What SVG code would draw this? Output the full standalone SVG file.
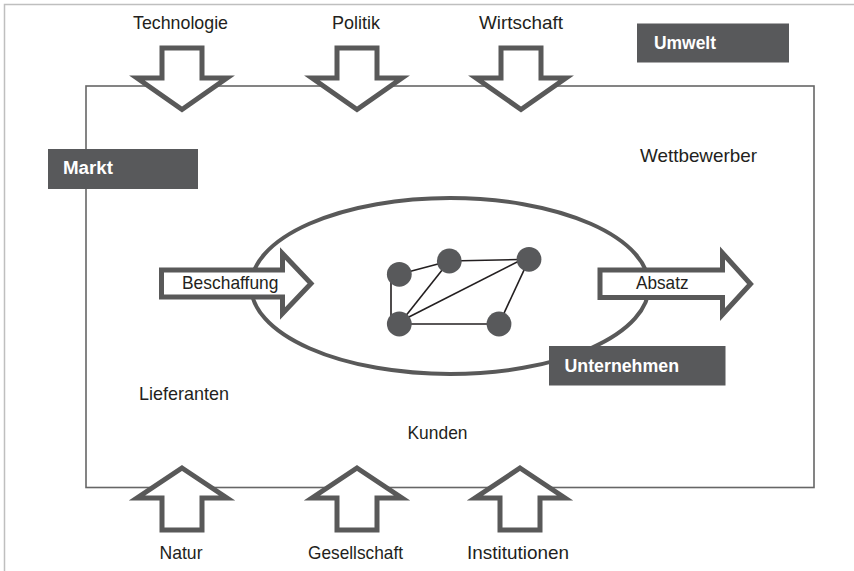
<svg xmlns="http://www.w3.org/2000/svg" width="854" height="571" viewBox="0 0 854 571">
<style>
.lbl{font-family:"Liberation Sans",Arial,sans-serif;font-size:19px;fill:#231f20;}
.blbl{font-family:"Liberation Sans",Arial,sans-serif;font-size:17.5px;font-weight:bold;fill:#ffffff;}
.box{fill:#58595b;}
.bigarrow{fill:#ffffff;stroke:#595959;stroke-width:5;stroke-linejoin:miter;stroke-miterlimit:6;}
.node{fill:#58595b;}
.edge{stroke:#231f20;stroke-width:1.6;fill:none;}
</style>
<rect width="854" height="571" fill="#ffffff"/>
<g id="frame">
<path d="M4.5,571 V4.5 H854" fill="none" stroke="#bfbfbf" stroke-width="1.5"/>
</g>
<g id="markt-rect">
<rect x="86" y="86" width="728" height="401.5" fill="none" stroke="#666666" stroke-width="1.6"/>
</g>
<g id="unternehmen-ellipse">
<ellipse cx="450" cy="286" rx="199" ry="88" fill="none" stroke="#595959" stroke-width="4"/>
</g>
<g id="arrow-technologie">
<path class="bigarrow" d="M162,48 H202 V78 H227 L182,109.5 L137,78 H162 Z"/>
<text class="lbl" x="133" y="29" textLength="95" lengthAdjust="spacingAndGlyphs">Technologie</text>
</g>
<g id="arrow-politik">
<path class="bigarrow" d="M337,48 H377 V78 H402 L357,109.5 L312,78 H337 Z"/>
<text class="lbl" x="332" y="29" textLength="48" lengthAdjust="spacingAndGlyphs">Politik</text>
</g>
<g id="arrow-wirtschaft">
<path class="bigarrow" d="M501,48 H541 V78 H566 L521,109.5 L476,78 H501 Z"/>
<text class="lbl" x="479" y="28.5" textLength="84" lengthAdjust="spacingAndGlyphs">Wirtschaft</text>
</g>
<g id="arrow-natur">
<path class="bigarrow" d="M182,468 L227,498 H202 V530 H162 V498 H137 Z"/>
<text class="lbl" x="159.5" y="559" textLength="43" lengthAdjust="spacingAndGlyphs">Natur</text>
</g>
<g id="arrow-gesellschaft">
<path class="bigarrow" d="M357,468 L402,498 H377 V530 H337 V498 H312 Z"/>
<text class="lbl" x="308" y="559" textLength="95" lengthAdjust="spacingAndGlyphs">Gesellschaft</text>
</g>
<g id="arrow-institutionen">
<path class="bigarrow" d="M520,468 L565,498 H540 V530 H500 V498 H475 Z"/>
<text class="lbl" x="467" y="559" textLength="102" lengthAdjust="spacingAndGlyphs">Institutionen</text>
</g>
<g id="umwelt">
<rect class="box" x="637" y="23.5" width="152" height="39"/>
<text class="blbl" x="654" y="49" textLength="62" lengthAdjust="spacingAndGlyphs">Umwelt</text>
</g>
<g id="markt">
<rect class="box" x="48" y="149" width="150" height="40"/>
<text class="blbl" x="63" y="174" textLength="50" lengthAdjust="spacingAndGlyphs">Markt</text>
</g>
<g id="wettbewerber">
<text class="lbl" x="640" y="162" textLength="117" lengthAdjust="spacingAndGlyphs">Wettbewerber</text>
</g>
<g id="lieferanten">
<text class="lbl" x="139" y="400" textLength="90" lengthAdjust="spacingAndGlyphs">Lieferanten</text>
</g>
<g id="kunden">
<text class="lbl" x="407.5" y="438.5" textLength="60" lengthAdjust="spacingAndGlyphs">Kunden</text>
</g>
<g id="beschaffung">
<path class="bigarrow" d="M161.5,270 H282.5 V253.5 L311,283.5 L282.5,313.5 V297 H161.5 Z"/>
<text class="lbl" x="182" y="289" textLength="96.5" lengthAdjust="spacingAndGlyphs">Beschaffung</text>
</g>
<g id="absatz">
<path class="bigarrow" d="M600,270 H722.5 V253 L750.5,284 L722.5,314.5 V297.5 H600 Z"/>
<text class="lbl" x="636" y="289" textLength="52.5" lengthAdjust="spacingAndGlyphs">Absatz</text>
</g>
<g id="unternehmen">
<rect class="box" x="549" y="346" width="176.5" height="39.5"/>
<text class="blbl" x="564.5" y="371.5" textLength="114.5" lengthAdjust="spacingAndGlyphs">Unternehmen</text>
</g>
<g id="connectors">
<line class="edge" x1="399.3" y1="274.3" x2="449.3" y2="261"/>
<line class="edge" x1="391" y1="278" x2="391" y2="320"/>
<line class="edge" x1="449.3" y1="261" x2="529" y2="259.3"/>
<line class="edge" x1="449.3" y1="261" x2="399.3" y2="324"/>
<line class="edge" x1="403" y1="320" x2="524" y2="258.5"/>
<line class="edge" x1="529" y1="259.3" x2="499" y2="324"/>
<line class="edge" x1="399.3" y1="324" x2="499" y2="324"/>
</g>
<g id="node-1"><circle class="node" cx="399.3" cy="274.3" r="12.4"/></g>
<g id="node-2"><circle class="node" cx="449.3" cy="261" r="12.4"/></g>
<g id="node-3"><circle class="node" cx="529" cy="259.3" r="12.4"/></g>
<g id="node-4"><circle class="node" cx="399.3" cy="324" r="12.4"/></g>
<g id="node-5"><circle class="node" cx="499" cy="324" r="12.4"/></g>
</svg>
